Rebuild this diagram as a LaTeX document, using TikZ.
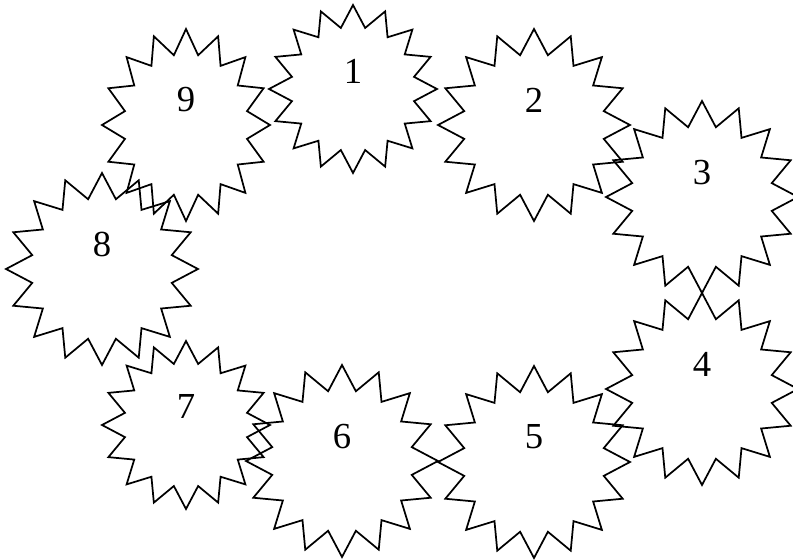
\documentclass[tikz,border=0pt]{standalone}
\usepackage{fontspec}
\setmainfont{Liberation Serif}
\usetikzlibrary{shapes.geometric}
\tikzset{
  burst/.style={
    star, star points=16, star point ratio=1.35,
    draw=black, line width=1.3pt, inner sep=0pt,
    minimum size=144pt
  },
  smallburst/.style={burst, minimum size=126pt},
  num/.style={font=\fontsize{27.5}{32}\selectfont, inner sep=0pt}
}

\begin{document}
\begin{tikzpicture}[x=0.75pt, y=-0.75pt]

  \useasboundingbox (0,0) rectangle (793,560);

  % ── Upper row ──
  \node[smallburst, label={[num, yshift=13pt]center:1}]   (s1) at (353,89)  {};
  \node[burst,      label={[num, yshift=18.4pt]center:2}] (s2) at (534,125) {};
  \node[burst,      label={[num, yshift=18.2pt]center:3}] (s3) at (702,197) {};

  % ── Right side and lower row ──
  \node[burst,      label={[num, yshift=18.2pt]center:4}] (s4) at (702,389) {};
  \node[burst,      label={[num, yshift=19pt]center:5}]   (s5) at (534,462) {};
  \node[burst,      label={[num, yshift=18.7pt]center:6}] (s6) at (342,461) {};
  \node[smallburst, label={[num, yshift=14pt]center:7}]   (s7) at (186,425) {};

  % ── Left side ──
  \node[burst,      label={[num, yshift=18.2pt]center:8}] (s8) at (102,269) {};
  \node[burst, xscale=0.875,
                    label={[num, yshift=19pt]center:9}]   (s9) at (186,125) {};

\end{tikzpicture}
\end{document}
